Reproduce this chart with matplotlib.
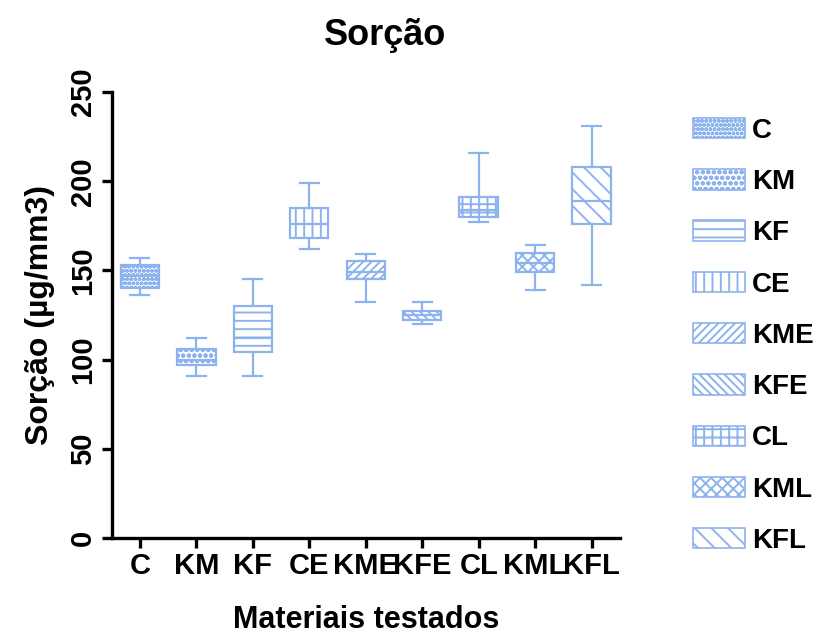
import matplotlib.pyplot as plt
from matplotlib.patches import Patch

plt.rcParams['font.family'] = ['Liberation Sans', 'DejaVu Sans']
plt.rcParams['font.weight'] = 'bold'
plt.rcParams['hatch.linewidth'] = 1.4

# dados (ug/mm3)
grupos = ['C', 'KM', 'KF', 'CE', 'KME', 'KFE', 'CL', 'KML', 'KFL']
minimo = [136, 91, 91, 162, 132, 120, 177, 139, 142]
q1 = [140, 97, 104, 168, 145, 122, 180, 149, 176]
mediana = [147, 100, 112, 176, 149, 125, 184, 154, 189]
q3 = [153, 106, 130, 185, 155, 127, 191, 160, 208]
maximo = [157, 112, 145, 199, 159, 132, 216, 164, 231]
hachuras = ['oooo', 'ooo', '--', '||', '////', '\\\\\\\\', '++', 'xxx', '\\\\']

cor = '#8DB3EE'

stats = []
for i in range(len(grupos)):
    stats.append({'label': grupos[i], 'whislo': minimo[i], 'q1': q1[i],
                  'med': mediana[i], 'q3': q3[i], 'whishi': maximo[i]})

fig = plt.figure(figsize=(8.21, 6.35), dpi=100)
ax = fig.add_axes([0.136, 0.153, 0.619, 0.702])

bp = ax.bxp(stats, widths=0.68, patch_artist=True, showfliers=False,
            boxprops=dict(facecolor='white', edgecolor=cor, linewidth=1.6),
            whiskerprops=dict(color=cor, linewidth=1.6),
            capprops=dict(color=cor, linewidth=1.6),
            medianprops=dict(color=cor, linewidth=1.6))
for caixa, h in zip(bp['boxes'], hachuras):
    caixa.set_hatch(h)

ax.set_xlim(0.5, 9.5)
ax.set_ylim(0, 250)
ax.set_yticks([0, 50, 100, 150, 200, 250])
for s in ['top', 'right']:
    ax.spines[s].set_visible(False)
for s in ['left', 'bottom']:
    ax.spines[s].set_linewidth(2.4)
ax.tick_params(width=2.4, length=7, labelsize=21)
for t in ax.get_yticklabels():
    t.set_rotation(90)
    t.set_va('center')

ax.set_ylabel('Sorção (µg/mm3)', fontsize=23, fontweight='bold', labelpad=10)
ax.set_xlabel('Materiais testados', fontsize=22, fontweight='bold', labelpad=18)
fig.suptitle('Sorção', x=0.469, y=0.972, fontsize=26, fontweight='bold')

handles = [Patch(facecolor='white', edgecolor=cor, hatch=h, linewidth=1.2) for h in hachuras]
fig.legend(handles, grupos, loc='upper left', bbox_to_anchor=(0.831, 0.832),
           frameon=False, fontsize=20, handlelength=1.85, handleheight=0.75,
           handletextpad=0.25, labelspacing=0.91, borderaxespad=0)

fig.savefig('out.png', dpi=100)
